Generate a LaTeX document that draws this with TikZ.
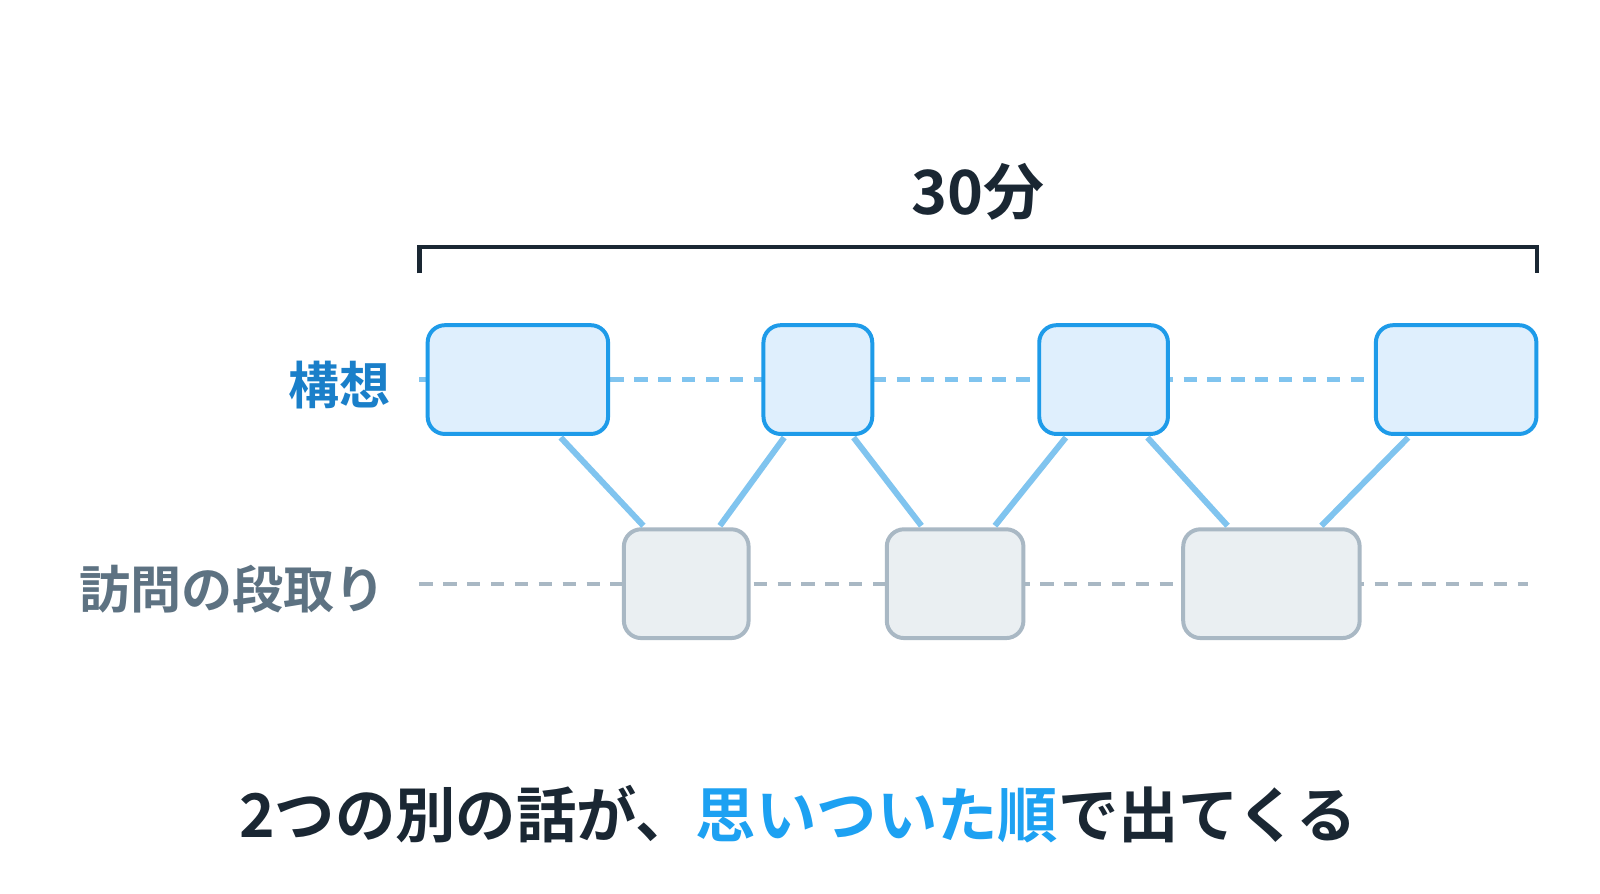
\documentclass[tikz,border=0pt]{standalone}
\usepackage{fontspec}
\setmainfont{Noto Sans CJK JP}[BoldFont=* Bold]
\usetikzlibrary{calc}
\definecolor{dark}{HTML}{1A2733}
\definecolor{bstroke}{HTML}{1E9BE9}
\definecolor{bfill}{HTML}{DFEFFD}
\definecolor{gstroke}{HTML}{A9B8C4}
\definecolor{gfill}{HTML}{EAEFF2}
\definecolor{lblue}{HTML}{80C4EF}
\definecolor{tblue}{HTML}{1A7FC9}
\definecolor{tgrey}{HTML}{5D7282}
\definecolor{hblue}{HTML}{1DA1F2}
\begin{document}
\begin{tikzpicture}[x=0.7692pt,y=-0.7692pt,
 top/.style={draw=bstroke,fill=bfill,line width=3pt,rounded corners=13pt,inner sep=0pt},
 bot/.style={draw=gstroke,fill=gfill,line width=3pt,rounded corners=13pt,inner sep=0pt},
 con/.style={draw=lblue,line width=4.5pt},
 dsh/.style={line width=3.2pt,dash pattern=on 10pt off 8pt},
 lab/.style={font=\bfseries\fontsize{38.5pt}{41pt}\selectfont,anchor=east,inner sep=0pt}]
\useasboundingbox (0,0) rectangle (1568,876.1);
\fill[white] (0,0) rectangle (1568,876.1);
\node[font=\bfseries\fontsize{46pt}{50pt}\selectfont,text=dark] (t30) at (958,188) {30分};
\coordinate (b1) at (411,268); \coordinate (b2) at (1506,268);
\draw[dark,line width=3.2pt] (b1) -- ++(0,-26) -| (b2);
\coordinate (d1) at (411,372); \coordinate (d2) at (1348,372);
\coordinate (e1) at (411,572); \coordinate (e2) at (1497,572);
\draw[lblue,dsh] (d1) -- (d2);
\draw[gstroke,dsh] (e1) -- (e2);
\node[top,minimum width=136pt,minimum height=82pt] (t1) at (507.5,372) {};
\node[top,minimum width=82pt,minimum height=82pt] (t2) at (801.5,372) {};
\node[top,minimum width=97pt,minimum height=82pt] (t3) at (1081.5,372) {};
\node[top,minimum width=121pt,minimum height=82pt] (t4) at (1427,372) {};
\node[bot,minimum width=94pt,minimum height=82pt] (u1) at (672.5,572) {};
\node[bot,minimum width=103pt,minimum height=82pt] (u2) at (936,572) {};
\node[bot,minimum width=133pt,minimum height=82pt] (u3) at (1246,572) {};
\node[lab,text=tblue] (l1) at (383,377) {構想};
\node[lab,text=tgrey] (l2) at (378,577) {訪問の段取り};
\node[font=\bfseries\fontsize{45.5pt}{48pt}\selectfont,text=dark] (cap) at (782,798) {2つの別の話が、\textcolor{hblue}{思いついた順}で出てくる};
\draw[con] ($(t1.south)+(42,1.5)$) -- ($(u1.north)+(-42,-1.5)$);
\draw[con] ($(t2.south)+(-33,1.5)$) -- ($(u1.north)+(33,-1.5)$);
\draw[con] ($(t2.south)+(35,1.5)$) -- ($(u2.north)+(-33,-1.5)$);
\draw[con] ($(t3.south)+(-37,1.5)$) -- ($(u2.north)+(39,-1.5)$);
\draw[con] ($(t3.south)+(43,1.5)$) -- ($(u3.north)+(-43,-1.5)$);
\draw[con] ($(t4.south)+(-47,1.5)$) -- ($(u3.north)+(49,-1.5)$);
\end{tikzpicture}
\end{document}
